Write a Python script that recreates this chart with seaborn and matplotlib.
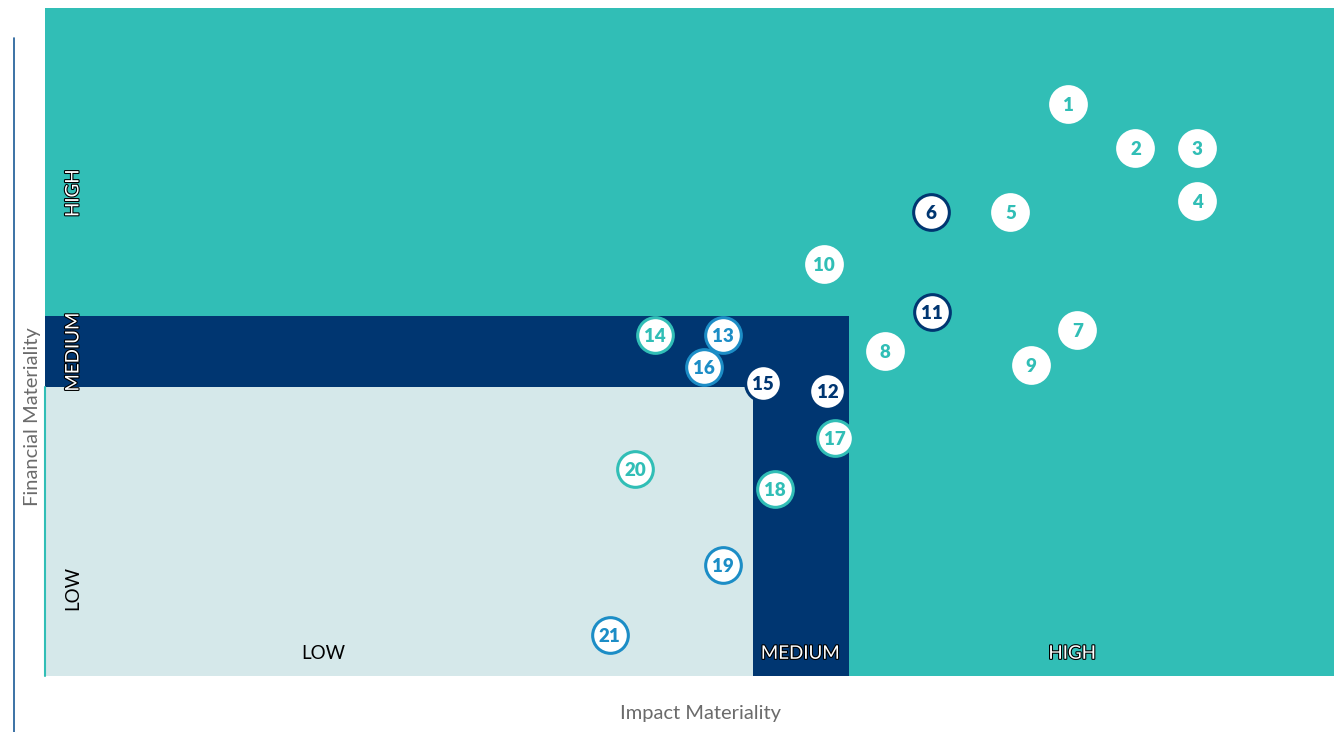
import matplotlib
matplotlib.use("Agg")
import matplotlib.pyplot as plt
import matplotlib.patheffects as pe
from matplotlib.patches import Rectangle
from matplotlib.lines import Line2D
import seaborn as sns
import pandas as pd

sns.set_theme(style="white")
plt.rcParams['font.family'] = ['Lato', 'DejaVu Sans']

# ---- data ----
ids = [str(i) for i in range(1, 22)]
impact = [79.4, 84.6, 89.4, 89.4, 74.9, 68.7, 80.1, 65.2, 76.5, 60.4, 68.8,
          60.7, 52.6, 47.3, 55.7, 51.1, 61.3, 56.6, 52.6, 45.8, 43.8]
financial = [85.6, 79.0, 79.0, 71.1, 69.5, 69.5, 51.8, 48.7, 46.6, 61.7, 54.5,
             42.7, 51.0, 51.0, 43.9, 46.3, 35.6, 28.0, 16.6, 31.0, 6.1]
group = ["plain", "plain", "plain", "plain", "plain", "navy", "plain", "plain", "plain", "plain", "navy",
         "navy", "blue", "teal", "navy", "blue", "teal", "teal", "blue", "teal", "blue"]
levels = ["LOW", "MEDIUM", "HIGH"]
impact_bounds = [0, 54.9, 62.4, 100]
financial_bounds = [0, 43.3, 53.9, 100]

TEAL = "#31BEB6"
NAVY = "#003671"
LIGHT = "#D5E8EA"
BLUE = "#1C8DC6"
edge_map = {"plain": "white", "navy": NAVY, "blue": BLUE, "teal": TEAL}
text_map = {"plain": TEAL, "navy": NAVY, "blue": BLUE, "teal": TEAL}

df = pd.DataFrame({"id": ids, "impact": impact, "financial": financial, "group": group})

fig = plt.figure(figsize=(13.34, 7.32), dpi=100)
ax = fig.add_axes([45/1334, 56/732, 1289/1334, 668/732])
ax.set_xlim(0, 100)
ax.set_ylim(0, 100)

# background zones
ax.add_patch(Rectangle((0, 0), 100, 100, facecolor=TEAL, edgecolor="none", zorder=0))
ax.add_patch(Rectangle((0, 0), impact_bounds[2], financial_bounds[2], facecolor=NAVY, edgecolor="none", zorder=0.5))
ax.add_patch(Rectangle((0, 0), impact_bounds[1], financial_bounds[1], facecolor=LIGHT, edgecolor="none", zorder=0.6))
ax.plot([0, 0], [0, financial_bounds[1]], color=TEAL, lw=1.5, zorder=0.7, clip_on=False)

# markers
for g in ["plain", "navy", "blue", "teal"]:
    sub = df[df.group == g]
    sns.scatterplot(data=sub, x="impact", y="financial", ax=ax, s=660,
                    color="white", edgecolor=edge_map[g], linewidth=2.2, zorder=3, legend=False)
for _, r in df.iterrows():
    ax.text(r.impact, r.financial, r.id, ha="center", va="center_baseline", fontsize=13.5,
            fontweight="heavy", color=text_map[r.group], zorder=4)

stroke = [pe.withStroke(linewidth=1.6, foreground="black")]
# x level labels
xlab_pos = [21.6, 58.6, 79.7]
for lab, xp in zip(levels, xlab_pos):
    if lab == "LOW":
        ax.text(xp, 3.4, lab, ha="center", va="center", fontsize=13.5, color="black", zorder=2)
    else:
        ax.text(xp, 3.4, lab, ha="center", va="center", fontsize=13.5, color="white",
                path_effects=stroke, zorder=2)
ylab_pos = [13.2, 48.5, 72.3]
for lab, yp in zip(levels, ylab_pos):
    if lab == "LOW":
        ax.text(2.17, yp, lab, ha="center", va="center", fontsize=13.5, color="black",
                rotation=90, zorder=2)
    else:
        ax.text(2.17, yp, lab, ha="center", va="center", fontsize=13.5, color="white",
                rotation=90, path_effects=stroke, zorder=2)

ax.set_xlabel("")
ax.set_ylabel("")
ax.set_xticks([])
ax.set_yticks([])
for s in ax.spines.values():
    s.set_visible(False)

fig.text(701/1334, 1 - 714/732, "Impact Materiality", ha="center", va="center",
         fontsize=14.5, color="#6b6b6b")
fig.text(33/1334, 1 - 417/732, "Financial Materiality", ha="center", va="center",
         fontsize=14.5, color="#6b6b6b", rotation=90)
fig.add_artist(Line2D([14/1334, 14/1334], [0, 1 - 38/732], color="#1a5a96", lw=1.2))

fig.savefig("out.png", dpi=100)
